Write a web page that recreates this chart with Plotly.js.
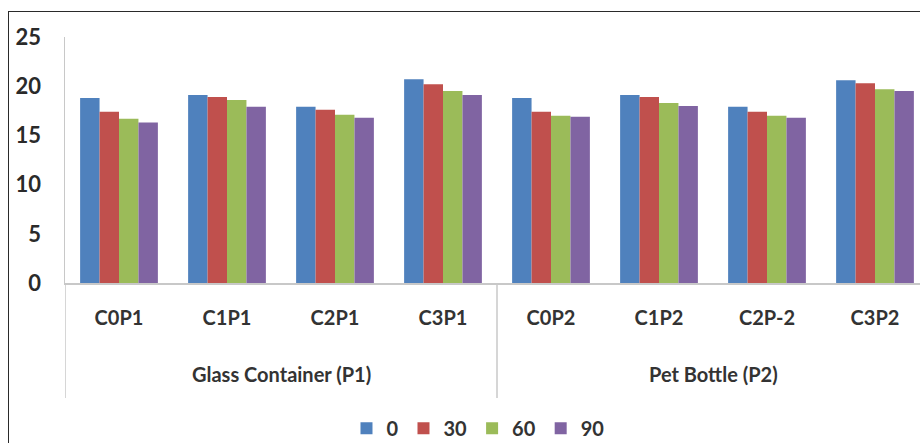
<!DOCTYPE html>
<html>
<head>
<meta charset="utf-8">
<script src="https://cdn.plot.ly/plotly-3.0.1.min.js"></script>
<style>
html,body{margin:0;padding:0;width:920px;height:443px;overflow:hidden;background:#fff;}
#frame{position:absolute;left:8px;top:11px;width:1000px;height:1000px;border:1.5px solid #2a2a2a;box-sizing:border-box;pointer-events:none;z-index:5;}
#chart{position:absolute;left:0;top:0;width:940px;height:443px;}
</style>
</head>
<body>
<div id="chart"></div>
<div id="frame"></div>
<script>
const categories = ['C0P1','C1P1','C2P1','C3P1','C0P2','C1P2','C2P-2','C3P2'];
const groupNames = ['Glass Container (P1)','Pet Bottle (P2)'];
const groupSizes = [4, 4];
const seriesNames = ['0','30','60','90'];
const s0  = [18.8, 19.1, 17.9, 20.7, 18.8, 19.1, 17.9, 20.6];
const s30 = [17.4, 18.9, 17.6, 20.2, 17.4, 18.9, 17.4, 20.3];
const s60 = [16.7, 18.6, 17.1, 19.5, 17.0, 18.3, 17.0, 19.7];
const s90 = [16.3, 17.9, 16.8, 19.1, 16.9, 18.0, 16.8, 19.5];
const yTicks = [0, 5, 10, 15, 20, 25];

const colors = ['#4F81BD','#C0504D','#9BBB59','#8064A2'];
const textColor = '#333333';
const fontFam = 'Lato, "Open Sans", sans-serif';
const allSeries = [s0, s30, s60, s90];
const traces = allSeries.map((vals, i) => ({
  type: 'bar',
  name: seriesNames[i],
  x: categories,
  y: vals,
  marker: {color: colors[i]},
  hoverinfo: 'none'
}));

// group labels and dividers
const annotations = [];
const shapes = [];
let start = 0;
const divBottom = -0.467;
shapes.push({type: 'line', xref: 'x', yref: 'paper', x0: -0.5, x1: -0.5, y0: 0, y1: divBottom,
             line: {color: '#c8c8c8', width: 1.5}});
groupNames.forEach((g, gi) => {
  const n = groupSizes[gi];
  const end = start + n;
  annotations.push({
    xref: 'x', yref: 'paper', x: (start + end - 1) / 2, y: -0.37,
    text: g, showarrow: false, xanchor: 'center', yanchor: 'middle',
    font: {size: 20, color: textColor, family: fontFam, weight: 'bold'}
  });
  shapes.push({type: 'line', xref: 'x', yref: 'paper', x0: end - 0.5, x1: end - 0.5, y0: 0, y1: divBottom,
               line: {color: '#c8c8c8', width: 1.5}});
  start = end;
});

const layout = {
  width: 940, height: 443,
  margin: {l: 65, r: 11, t: 37, b: 160, autoexpand: false},
  paper_bgcolor: 'rgba(0,0,0,0)',
  plot_bgcolor: 'rgba(0,0,0,0)',
  barmode: 'group',
  bargap: 0.28,
  bargroupgap: 0,
  font: {family: fontFam, color: textColor},
  xaxis: {
    type: 'category',
    range: [-0.5, categories.length - 0.5],
    showline: true, linecolor: '#c8c8c8', linewidth: 1.5,
    ticks: '', showgrid: false, automargin: false,
    ticklabelstandoff: 16,
    tickfont: {size: 20, color: textColor, weight: 'bold'}
  },
  yaxis: {
    range: [0, 25],
    tickvals: yTicks,
    ticktext: yTicks.map(String),
    showgrid: false, zeroline: false, automargin: false,
    showline: true, linecolor: '#c8c8c8', linewidth: 1.5,
    ticks: '', ticklabelstandoff: 18,
    tickfont: {size: 22, color: '#2a2a2a', weight: 'bold'}
  },
  annotations: annotations,
  shapes: shapes,
  showlegend: true,
  legend: {
    orientation: 'h',
    x: 0.478, xanchor: 'center',
    y: -0.59, yanchor: 'middle',
    font: {size: 20, color: textColor, weight: 'bold'},
    itemwidth: 30,
    traceorder: 'normal'
  }
};

Plotly.newPlot('chart', traces, layout, {staticPlot: true, displayModeBar: false});
</script>
</body>
</html>
